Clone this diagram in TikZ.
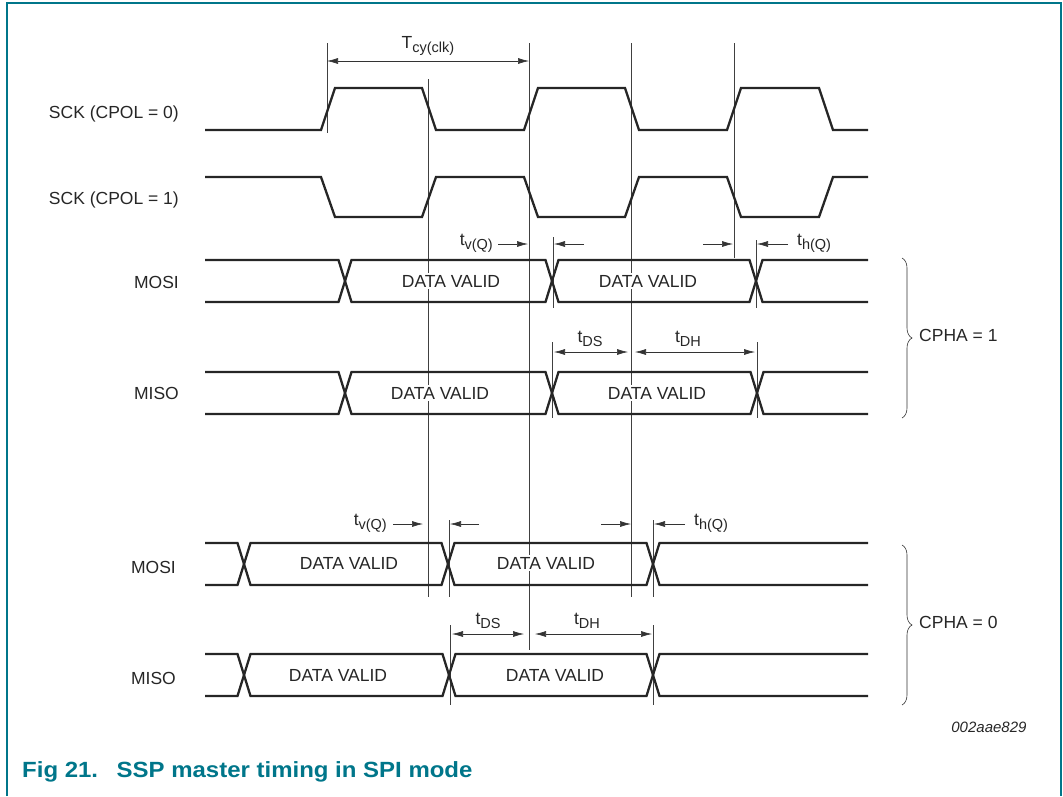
\documentclass[tikz,border=0pt]{standalone}
\usepackage{fontspec}
\setmainfont{Liberation Sans}
\usetikzlibrary{arrows.meta,decorations.pathreplacing}
\definecolor{nxpteal}{RGB}{0,118,138}
% subscripted timing symbol
\newcommand{\sublbl}[2]{#1\raisebox{-0.45ex}{\fontsize{14.5}{15}\selectfont #2}}
% data bus: top y, three crossings
\newcommand{\busline}[4]{%
  \draw[wave] (205,#1) -- (#2-6.5,#1) -- (#2+6.5,#1+42) -- (#3-6.5,#1+42) -- (#3+6.5,#1) -- (#4-6.5,#1) -- (#4+6.5,#1+42) -- (868,#1+42);
  \draw[wave] (205,#1+42) -- (#2-6.5,#1+42) -- (#2+6.5,#1) -- (#3-6.5,#1) -- (#3+6.5,#1+42) -- (#4-6.5,#1+42) -- (#4+6.5,#1) -- (868,#1);
}
\begin{document}
\begin{tikzpicture}[x=1pt,y=-1pt,
    wave/.style={line width=2.3pt, black!85},
    refline/.style={line width=0.6pt, black!75},
    dim/.style={line width=0.6pt, black!80, {Latex[length=11pt,width=6pt]}-{Latex[length=11pt,width=6pt]}},
    onearrow/.style={line width=0.6pt, black!80, -{Latex[length=11pt,width=6pt]}},
    lbl/.style={font=\fontsize{17.5}{21}\selectfont, text=black!85, inner sep=1pt},
    valid/.style={lbl, fill=white, inner sep=2pt}]
    \useasboundingbox (0,0) rectangle (1063,796);
    % frame
    \draw[nxpteal, line width=2pt] (7,796) -- (7,2.5) -- (1061,2.5) -- (1061,796);

    % reference lines
    \draw[refline] (327,43) -- (327,133);
    \draw[refline] (428,79) -- (428,597);
    \draw[refline] (529,43) -- (529,650);
    \draw[refline] (631,43) -- (631,597);
    \draw[refline] (734,43) -- (734,258);
    \draw[refline] (553,237) -- (553,308);
    \draw[refline] (756,240) -- (756,308);
    \draw[refline] (552,342) -- (552,418);
    \draw[refline] (757,342) -- (757,418);
    \draw[refline] (449,520) -- (449,597);
    \draw[refline] (653,520) -- (653,597);
    \draw[refline] (450,625) -- (450,705);
    \draw[refline] (653,625) -- (653,705);

    % clocks
    \draw[wave] (205,130) -- (321,130) -- (335,88) -- (422,88) -- (436,130) -- (524,130) -- (538,88) -- (625,88) -- (639,130) -- (727,130) -- (741,88) -- (819,88) -- (833,130) -- (868,130);
    \draw[wave] (205,177) -- (321,177) -- (335,217) -- (422,217) -- (436,177) -- (524,177) -- (538,217) -- (625,217) -- (639,177) -- (727,177) -- (741,217) -- (819,217) -- (833,177) -- (868,177);

    % data lines
    \busline{260}{345}{552}{756}
    \busline{372}{345}{552}{757}
    \busline{543}{244}{448}{653}
    \busline{654}{244}{449}{653}

    % signal names
    \node[lbl, anchor=east] (sck0) at (180,114) {SCK (CPOL = 0)};
    \node[lbl, anchor=east] (sck1) at (180,200) {SCK (CPOL = 1)};
    \node[lbl, anchor=east] (mosia) at (180,282) {MOSI};
    \node[lbl, anchor=east] (misoa) at (180,393) {MISO};
    \node[lbl, anchor=east] (mosib) at (177,567) {MOSI};
    \node[lbl, anchor=east] (misob) at (177,678) {MISO};

    \node[valid] (va1) at (451,281) {DATA VALID};
    \node[valid] (va2) at (648,281) {DATA VALID};
    \node[valid] (va3) at (440,393) {DATA VALID};
    \node[valid] (va4) at (657,393) {DATA VALID};
    \node[valid] (vb1) at (349,563) {DATA VALID};
    \node[valid] (vb2) at (546,563) {DATA VALID};
    \node[valid] (vb3) at (338,675) {DATA VALID};
    \node[valid] (vb4) at (555,675) {DATA VALID};

    % clock period
    \draw[dim] (327,61) -- (529,61);
    \node[lbl] (tcy) at (428,46) {\sublbl{T}{cy(clk)}};

    % CPHA = 1 timings
    \node[lbl, anchor=east] (tva) at (494,243) {\sublbl{t}{v(Q)}};
    \draw[onearrow] (498,244) -- (528,244);
    \draw[onearrow] (584,244) -- (554,244);
    \draw[onearrow] (703,244) -- (733,244);
    \draw[onearrow] (788,244) -- (757,244);
    \node[lbl, anchor=west] (tha) at (796,243) {\sublbl{t}{h(Q)}};
    \draw[dim] (554,352) -- (628,352);
    \draw[dim] (635,352) -- (755,352);
    \node[lbl] (tdsa) at (590,339) {\sublbl{t}{DS}};
    \node[lbl] (tdha) at (688,339) {\sublbl{t}{DH}};

    % CPHA = 0 timings
    \node[lbl, anchor=east] (tvb) at (388,523) {\sublbl{t}{v(Q)}};
    \draw[onearrow] (393,524) -- (423,524);
    \draw[onearrow] (479,524) -- (450,524);
    \draw[onearrow] (601,524) -- (631,524);
    \draw[onearrow] (685,524) -- (654,524);
    \node[lbl, anchor=west] (thb) at (693,523) {\sublbl{t}{h(Q)}};
    \draw[dim] (452,634) -- (524,634);
    \draw[dim] (535,634) -- (652,634);
    \node[lbl] (tdsb) at (488,621) {\sublbl{t}{DS}};
    \node[lbl] (tdhb) at (587,621) {\sublbl{t}{DH}};

    % phase braces
    \draw[line width=0.6pt, black!80, decorate, decoration={brace, amplitude=10pt}] (902,258) -- (902,418);
    \node[lbl, anchor=west] (cpha1) at (918,335) {CPHA = 1};
    \draw[line width=0.6pt, black!80, decorate, decoration={brace, amplitude=10pt}] (902,545) -- (902,705);
    \node[lbl, anchor=west] (cpha0) at (918,622) {CPHA = 0};

    \node[font=\itshape\fontsize{15}{18}\selectfont, text=black!85, anchor=east] (figid) at (1030,727) {002aae829};
    \node[font=\bfseries\fontsize{22}{26}\selectfont, text=nxpteal, anchor=west, inner sep=0pt] (caption) at (22,772) {\scalebox{1.09}[1]{Fig 21.\hspace{17pt}SSP master timing in SPI mode}};
\end{tikzpicture}
\end{document}
